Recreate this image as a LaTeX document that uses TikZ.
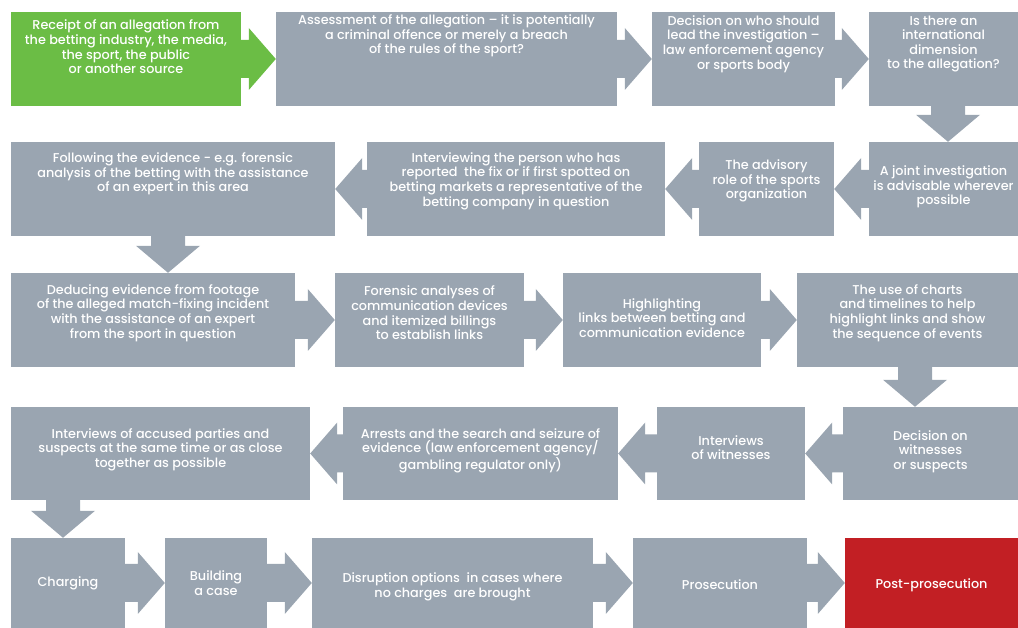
\documentclass[tikz,border=0pt]{standalone}
\usepackage{fontspec}
\setmainfont{Poppins}[UprightFont=* Medium]
\usepackage{xcolor}
\definecolor{boxcolor}{HTML}{9AA5B1}
\definecolor{startcolor}{HTML}{6BBD45}
\definecolor{endcolor}{HTML}{C21F24}
\usetikzlibrary{calc}

\begin{document}
\begin{tikzpicture}[
  x=1pt, y=1pt,
  box/.style={anchor=center, inner sep=0pt, fill=boxcolor, minimum height=94pt},
  txt/.style={anchor=center, inner sep=0pt, align=center, text=white, font=\fontsize{12.8}{14.6}\selectfont},
]

  \useasboundingbox (0,0) rectangle (1018,628);

  % first row, left to right
  \node[box, fill=startcolor, minimum width=230pt] (s1) at (126,569) {};
  \node[box, minimum width=341pt] (s2) at (446.5,569) {};
  \node[box, minimum width=183pt] (s3) at (743.5,569) {};
  \node[box, minimum width=149pt] (s4) at (943.5,569) {};

  % second row, right to left
  \node[box, minimum width=149pt] (s5) at (943.5,439) {};
  \node[box, minimum width=135pt] (s6) at (766.5,439) {};
  \node[box, minimum width=298pt] (s7) at (516,439) {};
  \node[box, minimum width=324pt] (s8) at (173,439) {};

  % third row
  \node[box, minimum width=284pt] (s9) at (153,308) {};
  \node[box, minimum width=189pt] (s10) at (429.5,308) {};
  \node[box, minimum width=198pt] (s11) at (662,308) {};
  \node[box, minimum width=221pt] (s12) at (907.5,308) {};

  % fourth row
  \node[box, minimum width=175pt, minimum height=93pt] (s13) at (930.5,174.5) {};
  \node[box, minimum width=148pt, minimum height=93pt] (s14) at (731,174.5) {};
  \node[box, minimum width=275pt, minimum height=93pt] (s15) at (480.5,174.5) {};
  \node[box, minimum width=299pt, minimum height=93pt] (s16) at (160.5,174.5) {};

  % last row
  \node[box, minimum width=114pt, minimum height=90pt] (s17) at (68,45) {};
  \node[box, minimum width=102pt, minimum height=90pt] (s18) at (216,45) {};
  \node[box, minimum width=281pt, minimum height=90pt] (s19) at (452.5,45) {};
  \node[box, minimum width=174pt, minimum height=90pt] (s20) at (720,45) {};
  \node[box, fill=endcolor, minimum width=173pt, minimum height=90pt] (s21) at (931.5,45) {};

  % block arrows
  \foreach \a/\b/\c in {s1/s2/startcolor, s2/s3/boxcolor, s3/s4/boxcolor,
      s9/s10/boxcolor, s10/s11/boxcolor, s11/s12/boxcolor,
      s17/s18/boxcolor, s18/s19/boxcolor, s19/s20/boxcolor, s20/s21/boxcolor}
    \fill[\c] ($(\a.east)+(-1,19)$) -- ($(\b.west |- \a.east)+(-27,19)$) -- ++(0,12)
      -- (\b.west |- \a.east) -- ($(\b.west |- \a.east)+(-27,-31)$) -- ++(0,12)
      -- ($(\a.east)+(-1,-19)$) -- cycle;

  \foreach \a/\b in {s5/s6, s6/s7, s7/s8, s13/s14, s14/s15, s15/s16}
    \fill[boxcolor] ($(\a.west)+(1,19)$) -- ($(\b.east |- \a.west)+(27,19)$) -- ++(0,12)
      -- (\b.east |- \a.west) -- ($(\b.east |- \a.west)+(27,-31)$) -- ++(0,12)
      -- ($(\a.west)+(1,-19)$) -- cycle;

  \foreach \a/\b/\x in {s4/s5/948, s8/s9/168, s12/s13/915, s16/s17/63}
    \fill[boxcolor] ($(\x,0 |- \a.south)+(-17,1)$) -- ($(\x,0 |- \b.north)+(-17,27)$) -- ++(-15,0)
      -- (\x,0 |- \b.north) -- ($(\x,0 |- \b.north)+(32,27)$) -- ++(-15,0)
      -- ($(\x,0 |- \a.south)+(17,1)$) -- cycle;

  % texts
  \node[txt] (t1) at ([yshift=12pt]s1.center) {Receipt of an allegation from\\the betting industry, the media,\\the sport, the public\\or another source};
  \node[txt] (t2) at ([yshift=23pt]s2.center) {Assessment of the allegation -- it is potentially\\a criminal offence or merely a breach\\of the rules of the sport?};
  \node[txt] (t3) at ([yshift=15pt]s3.center) {Decision on who should\\lead the investigation --\\law enforcement agency\\or sports body};
  \node[txt] (t4) at ([yshift=15pt]s4.center) {Is there an\\international\\dimension\\to the allegation?};
  \node[txt] (t5) at ([yshift=2pt]s5.center) {A joint investigation\\is advisable wherever\\possible};
  \node[txt] (t6) at ([yshift=8pt]s6.center) {The advisory\\role of the sports\\organization};
  \node[txt] (t7) at ([yshift=8pt]s7.center) {Interviewing the person who has\\reported\ \ the fix or if first spotted on\\betting markets a representative of the\\betting company in question};
  \node[txt] (t8) at ([yshift=15pt]s8.center) {Following the evidence - e.g. forensic\\analysis of the betting with the assistance\\of an expert in this area};
  \node[txt] (t9) at ([yshift=7pt]s9.center) {Deducing evidence from footage\\of the alleged match-fixing incident\\with the assistance of an expert\\from the sport in question};
  \node[txt] (t10) at ([yshift=7pt]s10.center) {Forensic analyses of\\communication devices\\and itemized billings\\to establish links};
  \node[txt] (t11) at ([yshift=2pt]s11.center) {Highlighting\\links between betting and\\communication evidence};
  \node[txt] (t12) at ([yshift=7pt]s12.center) {The use of charts\\and timelines to help\\highlight links and show\\the sequence of events};
  \node[txt] (t13) at ([yshift=2pt]s13.center) {Decision on\\witnesses\\or suspects};
  \node[txt] (t14) at ([yshift=6pt]s14.center) {Interviews\\of witnesses};
  \node[txt] (t15) at ([yshift=3pt]s15.center) {Arrests and the search and seizure of\\evidence (law enforcement agency/\\gambling regulator only)};
  \node[txt] (t16) at ([yshift=4pt]s16.center) {Interviews of accused parties and\\suspects at the same time or as close\\together as possible};
  \node[txt] (t17) at (s17) {Charging};
  \node[txt] (t18) at (s18) {Building\\a case};
  \node[txt] (t19) at ([yshift=-4pt]s19.center) {Disruption options\ \ in cases where\\no charges\ \ are brought};
  \node[txt] (t20) at ([yshift=-2pt]s20.center) {Prosecution};
  \node[txt] (t21) at ([yshift=-2pt]s21.center) {Post-prosecution};

\end{tikzpicture}
\end{document}
